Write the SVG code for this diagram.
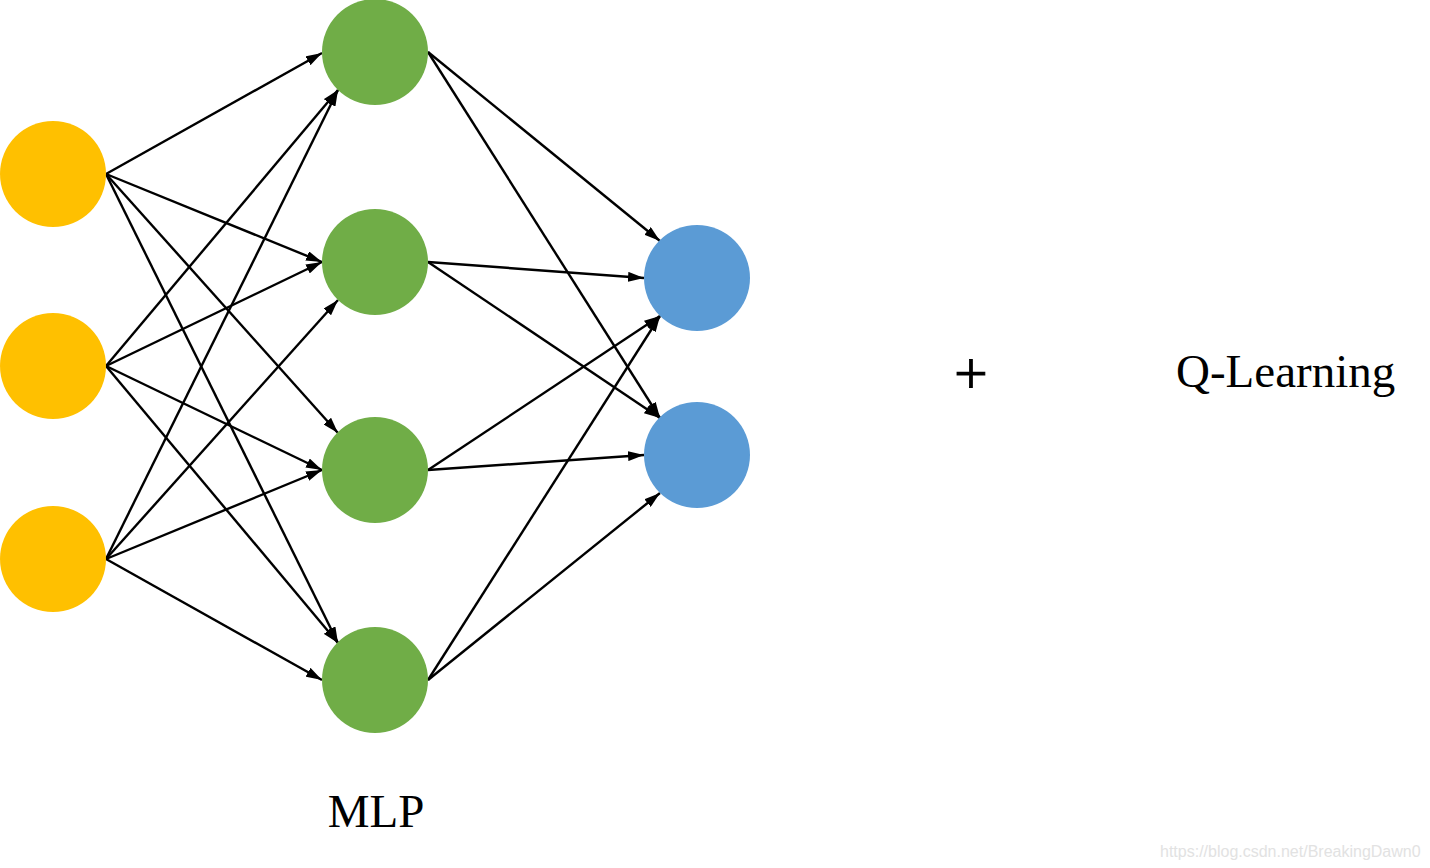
<svg xmlns="http://www.w3.org/2000/svg" width="1430" height="868" viewBox="0 0 1430 868">
<style>
.in{fill:#FFC000}
.hid{fill:#70AD47}
.out{fill:#5B9BD5}
.e{stroke:#000;stroke-width:2.4;fill:none;marker-end:url(#ah)}
.t{font-family:"Liberation Serif","Times New Roman",serif;fill:#000}
</style>
<defs>
<marker id="ah" viewBox="0 0 16 10" refX="16" refY="5" markerWidth="16" markerHeight="10" orient="auto" markerUnits="userSpaceOnUse">
<path d="M0,0 L16,5 L0,10 Z" fill="#000"/>
</marker>
</defs>
<rect width="1430" height="868" fill="#fff"/>
<g id="connectors">
<line class="e" x1="106" y1="174" x2="322" y2="53"/>
<line class="e" x1="106" y1="174" x2="322" y2="262"/>
<line class="e" x1="106" y1="174" x2="338" y2="433"/>
<line class="e" x1="106" y1="174" x2="338" y2="643"/>
<line class="e" x1="106" y1="366" x2="338" y2="90"/>
<line class="e" x1="106" y1="366" x2="322" y2="262"/>
<line class="e" x1="106" y1="366" x2="322" y2="470"/>
<line class="e" x1="106" y1="366" x2="338" y2="643"/>
<line class="e" x1="106" y1="559" x2="338" y2="90"/>
<line class="e" x1="106" y1="559" x2="338" y2="300"/>
<line class="e" x1="106" y1="559" x2="322" y2="470"/>
<line class="e" x1="106" y1="559" x2="322" y2="680"/>
<line class="e" x1="428" y1="52" x2="660" y2="241"/>
<line class="e" x1="428" y1="52" x2="660" y2="418"/>
<line class="e" x1="428" y1="262" x2="644" y2="278"/>
<line class="e" x1="428" y1="262" x2="660" y2="418"/>
<line class="e" x1="428" y1="470" x2="660" y2="316"/>
<line class="e" x1="428" y1="470" x2="644" y2="455"/>
<line class="e" x1="428" y1="680" x2="660" y2="316"/>
<line class="e" x1="428" y1="680" x2="660" y2="493"/>
</g>
<g id="in1"><circle class="in" cx="53" cy="174" r="53"/></g>
<g id="in2"><circle class="in" cx="53" cy="366" r="53"/></g>
<g id="in3"><circle class="in" cx="53" cy="559" r="53"/></g>
<g id="h1"><circle class="hid" cx="375" cy="52" r="53"/></g>
<g id="h2"><circle class="hid" cx="375" cy="262" r="53"/></g>
<g id="h3"><circle class="hid" cx="375" cy="470" r="53"/></g>
<g id="h4"><circle class="hid" cx="375" cy="680" r="53"/></g>
<g id="o1"><circle class="out" cx="697" cy="278" r="53"/></g>
<g id="o2"><circle class="out" cx="697" cy="455" r="53"/></g>
<text class="t" x="376" y="827" font-size="47" text-anchor="middle">MLP</text>
<text class="t" x="971" y="393" font-size="60" text-anchor="middle" stroke="#000" stroke-width="0.8">+</text>
<text class="t" x="1176" y="387" font-size="47">Q-Learning</text>
<text x="1160" y="857" font-size="16" font-family="'Liberation Sans',Arial,sans-serif" fill="#e2e2e2">https://blog.csdn.net/BreakingDawn0</text>
</svg>
